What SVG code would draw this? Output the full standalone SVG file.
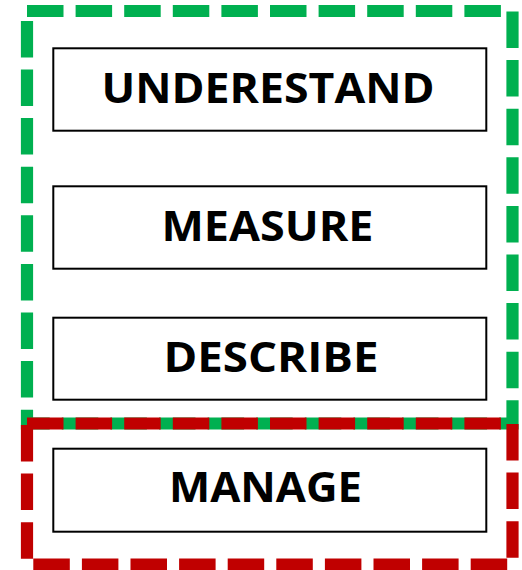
<svg xmlns="http://www.w3.org/2000/svg" width="522" height="570" viewBox="0 0 522 570">
  <style>
    .frame { fill: none; stroke-width: 12.2; stroke-dasharray: 36.5 12.1; stroke-linecap: butt; stroke-linejoin: miter; }
    .green { stroke: #00B050; }
    .red { stroke: #C00000; }
    .box { fill: #FFFFFF; stroke: #000000; stroke-width: 2; }
    .label { font-family: "Open Sans", "Liberation Sans", sans-serif; font-weight: 700; font-size: 42px; fill: #000000; }
  </style>
  <rect width="522" height="570" fill="#FFFFFF"/>

  <!-- dashed grouping frames -->
  <g id="frames">
    <path id="frame-analysis" class="frame green" d="M27 11 H512.5 V423.5 H27 Z"/>
    <path id="frame-action" class="frame red" d="M27 423.5 H512.5 V564.5 H27 Z"/>
  </g>

  <g id="node-understand">
    <rect class="box" x="53.3" y="48.3" width="433" height="82.4"/>
    <text class="label" x="101.5" y="103" textLength="333" lengthAdjust="spacingAndGlyphs">UNDERESTAND</text>
  </g>
  <g id="node-measure">
    <rect class="box" x="53.3" y="186.3" width="433" height="82.4"/>
    <text class="label" x="161.5" y="240.7" textLength="212" lengthAdjust="spacingAndGlyphs">MEASURE</text>
  </g>
  <g id="node-describe">
    <rect class="box" x="53.3" y="317.7" width="433" height="82"/>
    <text class="label" x="163.5" y="371.7" textLength="215" lengthAdjust="spacingAndGlyphs">DESCRIBE</text>
  </g>
  <g id="node-manage">
    <rect class="box" x="53.3" y="448.7" width="433" height="83"/>
    <text class="label" x="169" y="501.7" textLength="193" lengthAdjust="spacingAndGlyphs">MANAGE</text>
  </g>
</svg>
